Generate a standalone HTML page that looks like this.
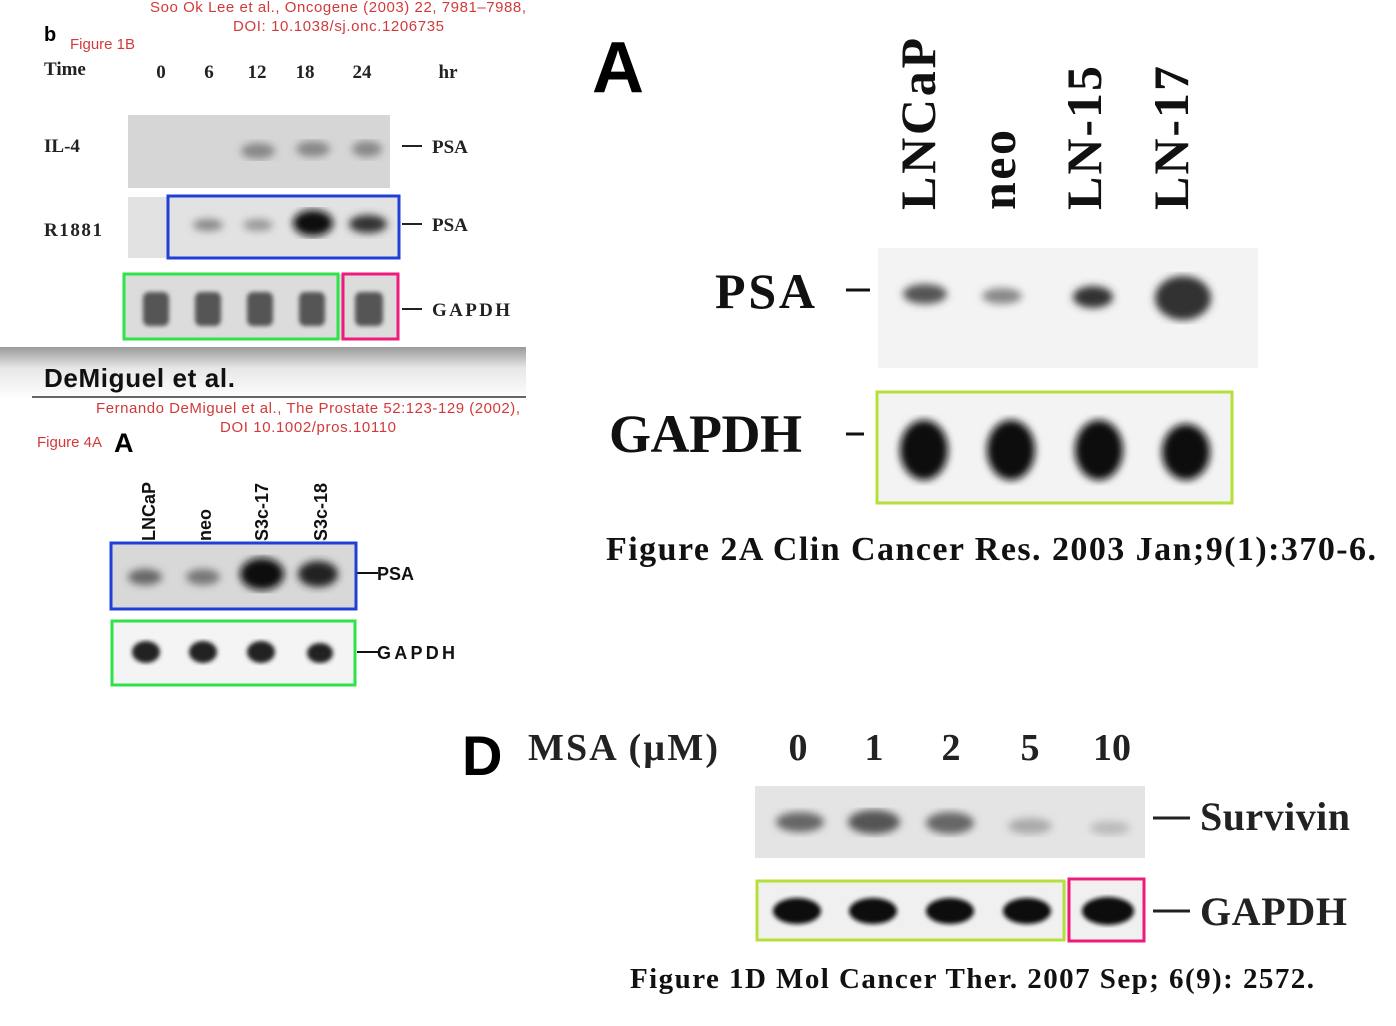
<!DOCTYPE html>
<html><head><meta charset="utf-8"><style>html,body{margin:0;padding:0;background:#fff}svg{display:block}</style></head>
<body>
<svg width="1396" height="1026" viewBox="0 0 1396 1026" xmlns="http://www.w3.org/2000/svg">
<defs>
<filter id="b2"><feGaussianBlur stdDeviation="2"/></filter>
<filter id="b4"><feGaussianBlur stdDeviation="4"/></filter>
<linearGradient id="hg" x1="0" y1="0" x2="0" y2="1"><stop offset="0" stop-color="#9a9a9a"/><stop offset="0.4" stop-color="#e6e6e6"/><stop offset="1" stop-color="#fff"/></linearGradient>
</defs>
<g font-family="Liberation Sans, sans-serif" fill="#d23a3a" font-size="15">
<text x="150" y="12" textLength="376">Soo Ok Lee et al., Oncogene (2003) 22, 7981–7988,</text>
<text x="233" y="31" textLength="211">DOI: 10.1038/sj.onc.1206735</text>
</g>
<text x="44" y="41" font-family="Liberation Sans, sans-serif" font-weight="bold" font-size="20">b</text>
<text x="70" y="49" font-family="Liberation Sans, sans-serif" font-size="15" fill="#d23a3a">Figure 1B</text>
<g font-family="Liberation Serif, serif" font-weight="bold" font-size="19" fill="#222">
<text x="44" y="75">Time</text>
<text x="161" y="78" text-anchor="middle">0</text><text x="209" y="78" text-anchor="middle">6</text>
<text x="257" y="78" text-anchor="middle">12</text><text x="305" y="78" text-anchor="middle">18</text>
<text x="362" y="78" text-anchor="middle">24</text><text x="448" y="78" text-anchor="middle">hr</text>
<text x="44" y="152">IL-4</text><text x="44" y="236" textLength="58">R1881</text>
<text x="432" y="153">PSA</text><text x="432" y="231">PSA</text><text x="432" y="316" textLength="78">GAPDH</text>
</g>
<g stroke="#222" stroke-width="2"><line x1="402" y1="146" x2="422" y2="146"/><line x1="402" y1="224" x2="422" y2="224"/><line x1="402" y1="309" x2="422" y2="309"/></g>
<rect x="128" y="115" width="262" height="73" fill="#d6d6d6"/>
<g fill="#888" filter="url(#b4)"><ellipse cx="258" cy="151" rx="17" ry="8"/><ellipse cx="313" cy="149" rx="17" ry="8"/><ellipse cx="367" cy="149" rx="15" ry="8"/></g>
<rect x="128" y="197" width="272" height="61" fill="#e2e2e2"/>
<g filter="url(#b4)"><ellipse cx="208" cy="225" rx="15" ry="6" fill="#888"/><ellipse cx="258" cy="225" rx="15" ry="6" fill="#999"/><ellipse cx="313" cy="223" rx="20" ry="13" fill="#111"/><ellipse cx="368" cy="224" rx="19" ry="9" fill="#333"/></g>
<rect x="168" y="196" width="231" height="62" fill="none" stroke="#1f3fd6" stroke-width="3"/>
<rect x="124" y="274" width="274" height="66" fill="#dcdcdc"/>
<g fill="#555" filter="url(#b2)"><rect x="143" y="292" width="26" height="34" rx="6"/><rect x="195" y="292" width="26" height="34" rx="6"/><rect x="247" y="292" width="26" height="34" rx="6"/><rect x="299" y="292" width="26" height="34" rx="6"/><rect x="355" y="292" width="28" height="34" rx="6"/></g>
<rect x="124" y="274" width="214" height="65" fill="none" stroke="#2ee34a" stroke-width="3"/>
<rect x="343" y="274" width="55" height="65" fill="none" stroke="#ee1a7c" stroke-width="3"/>
<rect x="0" y="347" width="526" height="52" fill="url(#hg)"/>
<text x="44" y="387" font-family="Liberation Sans, sans-serif" font-weight="bold" font-size="26" fill="#111" textLength="191">DeMiguel et al.</text>
<line x1="32" y1="397" x2="526" y2="397" stroke="#333" stroke-width="1.5"/>
<g font-family="Liberation Sans, sans-serif" fill="#d23a3a" font-size="15">
<text x="96" y="413" textLength="424">Fernando DeMiguel et al., The Prostate 52:123-129 (2002),</text>
<text x="220" y="432" textLength="176">DOI 10.1002/pros.10110</text>
</g>
<text x="37" y="447" font-family="Liberation Sans, sans-serif" font-size="15" fill="#d23a3a">Figure 4A</text>
<text x="114" y="452" font-family="Liberation Sans, sans-serif" font-weight="bold" font-size="27">A</text>
<g font-family="Liberation Sans, sans-serif" font-weight="bold" font-size="18" fill="#111">
<text transform="translate(155,541) rotate(-90)">LNCaP</text>
<text transform="translate(211,541) rotate(-90)">neo</text>
<text transform="translate(268,541) rotate(-90)">S3c-17</text>
<text transform="translate(327,541) rotate(-90)">S3c-18</text>
<text x="377" y="580">PSA</text><text x="377" y="659" textLength="78">GAPDH</text>
</g>
<line x1="357" y1="573" x2="378" y2="573" stroke="#111" stroke-width="2"/>
<line x1="357" y1="652" x2="378" y2="652" stroke="#111" stroke-width="2"/>
<rect x="111" y="543" width="245" height="66" fill="#d8d8d8"/>
<g filter="url(#b4)"><ellipse cx="145" cy="577" rx="17" ry="8" fill="#666"/><ellipse cx="203" cy="577" rx="17" ry="8" fill="#777"/><ellipse cx="262" cy="574" rx="22" ry="16" fill="#111"/><ellipse cx="318" cy="574" rx="20" ry="13" fill="#222"/></g>
<rect x="111" y="543" width="245" height="66" fill="none" stroke="#1f3fd6" stroke-width="3"/>
<rect x="112" y="621" width="243" height="64" fill="#f4f4f4"/>
<g fill="#222" filter="url(#b2)"><ellipse cx="146" cy="652" rx="14" ry="11"/><ellipse cx="203" cy="652" rx="14" ry="11"/><ellipse cx="261" cy="652" rx="14" ry="11"/><ellipse cx="320" cy="653" rx="13" ry="10"/></g>
<rect x="112" y="621" width="243" height="64" fill="none" stroke="#2ee34a" stroke-width="3"/>
<text x="592" y="92" font-family="Liberation Sans, sans-serif" font-weight="bold" font-size="72">A</text>
<g font-family="Liberation Serif, serif" font-weight="bold" font-size="50" fill="#111">
<text transform="translate(935,210) rotate(-90)" textLength="172">LNCaP</text>
<text transform="translate(1015,210) rotate(-90)" textLength="80">neo</text>
<text transform="translate(1101,210) rotate(-90)" textLength="144">LN-15</text>
<text transform="translate(1188,210) rotate(-90)" textLength="144">LN-17</text>
<text x="715" y="308" textLength="100">PSA</text>
<text x="609" y="452" font-size="54" textLength="193">GAPDH</text>
</g>
<line x1="846" y1="290" x2="870" y2="290" stroke="#111" stroke-width="3"/>
<line x1="846" y1="434" x2="864" y2="434" stroke="#111" stroke-width="3"/>
<rect x="878" y="248" width="380" height="120" fill="#f3f3f3"/>
<g filter="url(#b4)"><ellipse cx="925" cy="294" rx="22" ry="10" fill="#555"/><ellipse cx="1002" cy="296" rx="20" ry="8" fill="#888"/><ellipse cx="1093" cy="297" rx="20" ry="11" fill="#333"/><ellipse cx="1183" cy="298" rx="28" ry="22" fill="#333"/></g>
<rect x="877" y="392" width="355" height="111" fill="#f3f3f3"/>
<g fill="#111" filter="url(#b4)"><ellipse cx="924" cy="450" rx="24" ry="30"/><ellipse cx="1011" cy="450" rx="24" ry="30"/><ellipse cx="1099" cy="450" rx="24" ry="30"/><ellipse cx="1186" cy="452" rx="24" ry="28"/></g>
<rect x="877" y="392" width="355" height="111" fill="none" stroke="#b5e03a" stroke-width="3"/>
<text x="606" y="560" font-family="Liberation Serif, serif" font-weight="bold" font-size="34" fill="#111" textLength="770">Figure 2A Clin Cancer Res. 2003 Jan;9(1):370-6.</text>
<text x="462" y="775" font-family="Liberation Sans, sans-serif" font-weight="bold" font-size="56">D</text>
<g font-family="Liberation Serif, serif" font-weight="bold" font-size="38" fill="#222" text-anchor="middle">
<text x="528" y="760" text-anchor="start" textLength="190">MSA (µM)</text>
<text x="798" y="760">0</text><text x="874" y="760">1</text><text x="951" y="760">2</text><text x="1030" y="760">5</text><text x="1112" y="760">10</text>
<text x="1200" y="830" text-anchor="start" font-size="40" textLength="150">Survivin</text>
<text x="1200" y="925" text-anchor="start" font-size="40" textLength="147">GAPDH</text>
</g>
<line x1="1153" y1="818" x2="1190" y2="818" stroke="#222" stroke-width="3"/>
<line x1="1153" y1="911" x2="1190" y2="911" stroke="#222" stroke-width="3"/>
<rect x="755" y="786" width="390" height="72" fill="#e4e4e4"/>
<g filter="url(#b4)"><ellipse cx="800" cy="822" rx="24" ry="10" fill="#666"/><ellipse cx="874" cy="822" rx="26" ry="12" fill="#555"/><ellipse cx="950" cy="823" rx="24" ry="11" fill="#666"/><ellipse cx="1030" cy="826" rx="22" ry="8" fill="#aaa"/><ellipse cx="1110" cy="828" rx="20" ry="7" fill="#bbb"/></g>
<rect x="757" y="881" width="387" height="59" fill="#f0f0f0"/>
<g fill="#111" filter="url(#b2)"><ellipse cx="797" cy="911" rx="24" ry="13"/><ellipse cx="873" cy="911" rx="24" ry="13"/><ellipse cx="950" cy="911" rx="24" ry="13"/><ellipse cx="1027" cy="911" rx="24" ry="13"/><ellipse cx="1108" cy="911" rx="26" ry="14"/></g>
<rect x="757" y="881" width="307" height="59" fill="none" stroke="#b5e03a" stroke-width="3"/>
<rect x="1069" y="879" width="75" height="62" fill="none" stroke="#ee1a7c" stroke-width="3"/>
<text x="630" y="988" font-family="Liberation Serif, serif" font-weight="bold" font-size="29" fill="#111" textLength="684">Figure 1D Mol Cancer Ther. 2007 Sep; 6(9): 2572.</text>
</svg>
</body></html>
